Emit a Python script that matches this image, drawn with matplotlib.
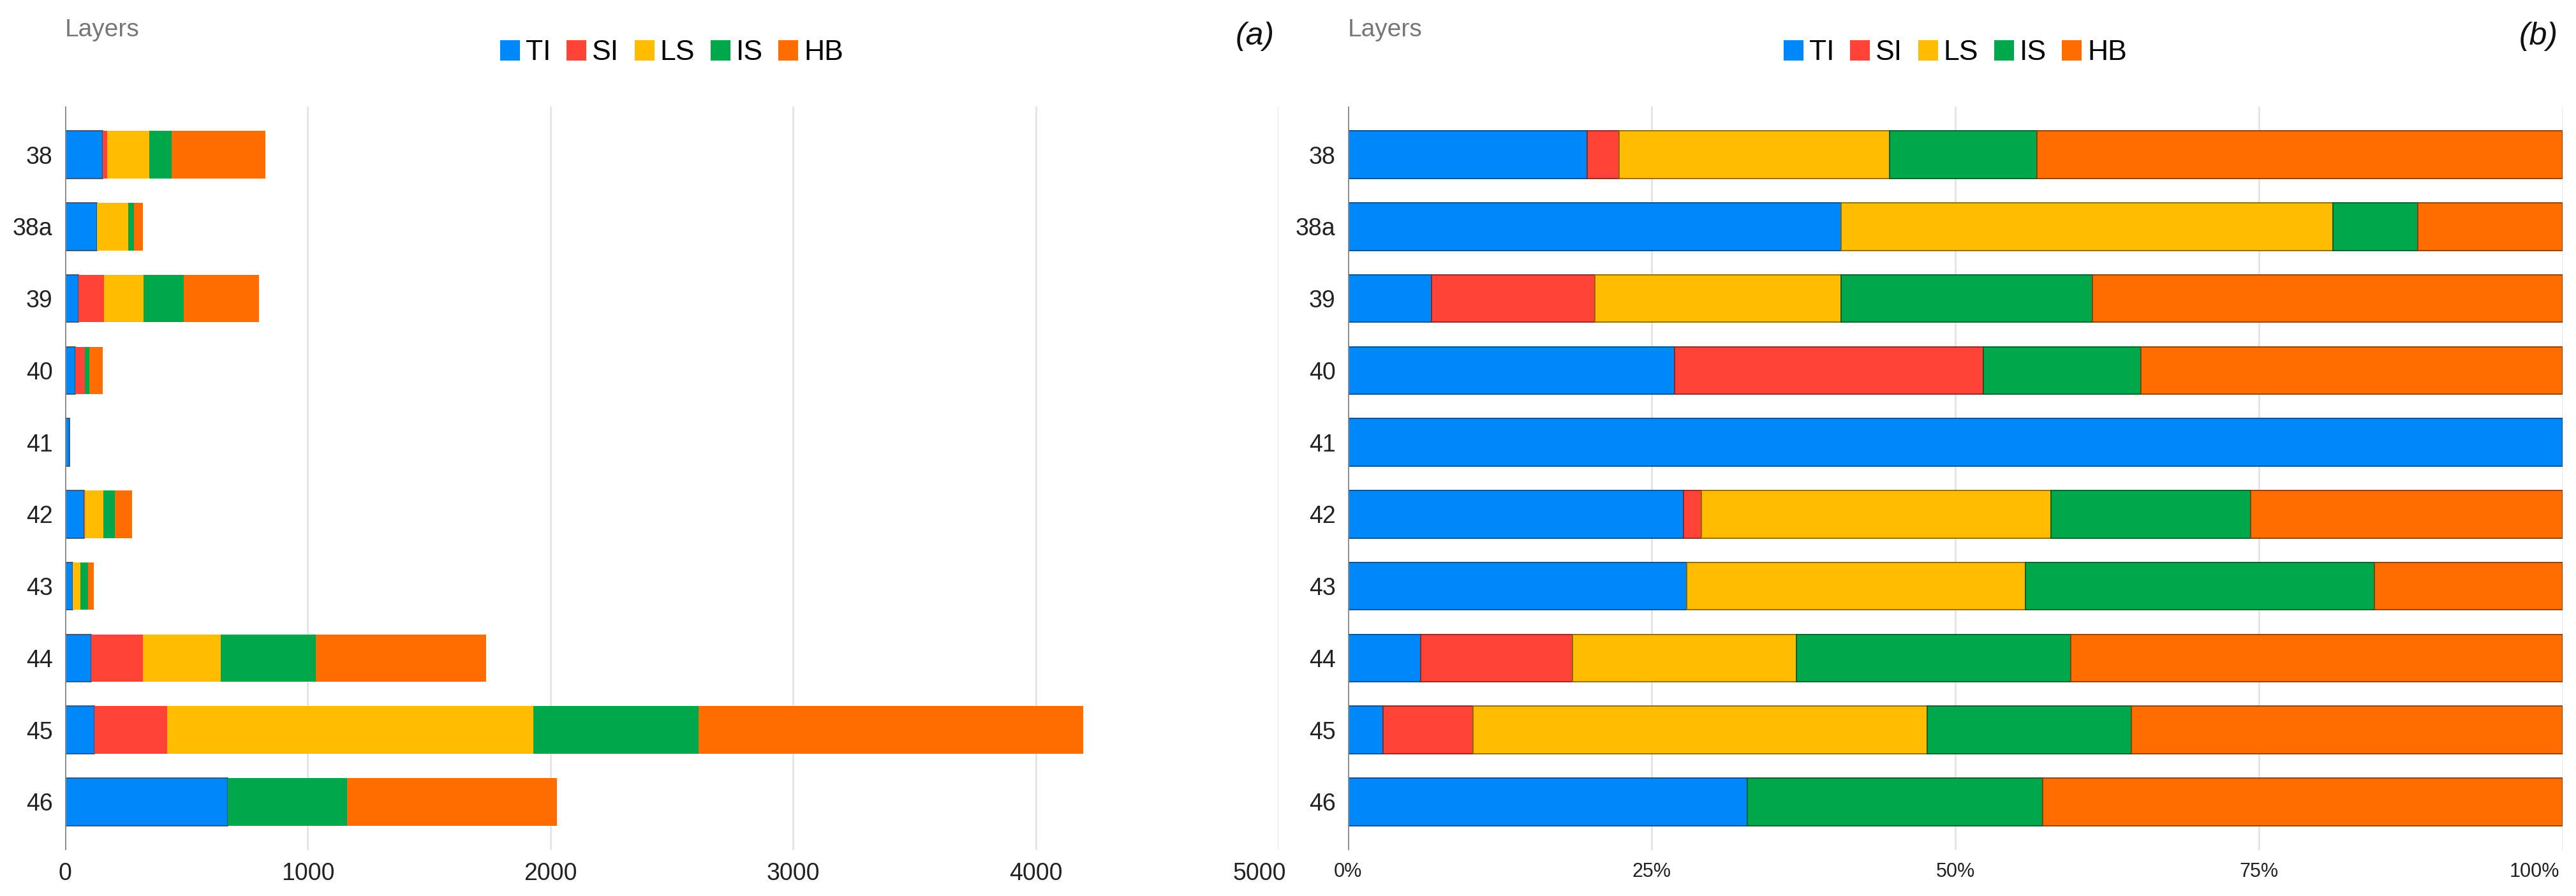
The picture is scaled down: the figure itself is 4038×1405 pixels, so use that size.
import matplotlib
matplotlib.use("Agg")
import matplotlib.pyplot as plt
from matplotlib.patches import Rectangle
import matplotlib.transforms as mtransforms
import numpy as np
from matplotlib.colors import to_rgb

plt.rcParams['font.family'] = ['Liberation Sans', 'DejaVu Sans']

layers = ["38", "38a", "39", "40", "41", "42", "43", "44", "45", "46"]
series = ["TI", "SI", "LS", "IS", "HB"]
colors = ["#0088FA", "#FF4336", "#FFBC00", "#00A84B", "#FF6D00"]

# panel (a): counts
ti_a = [155, 132, 55, 42, 19, 78, 31, 108, 121, 671]
si_a = [18, 0, 106, 40, 0, 4, 0, 214, 299, 0]
ls_a = [174, 129, 163, 0, 0, 75, 33, 319, 1510, 0]
is_a = [91, 23, 166, 18, 0, 47, 30, 393, 681, 491]
hb_a = [387, 38, 308, 55, 0, 73, 23, 701, 1585, 866]

# panel (b): percentages
ti_b = [19.7, 40.6, 6.9, 26.9, 100.0, 27.6, 27.9, 6.0, 2.9, 32.9]
si_b = [2.6, 0.0, 13.4, 25.4, 0.0, 1.5, 0.0, 12.5, 7.4, 0.0]
ls_b = [22.3, 40.5, 20.3, 0.0, 0.0, 28.8, 27.9, 18.4, 37.4, 0.0]
is_b = [12.1, 7.0, 20.7, 13.0, 0.0, 16.4, 28.7, 22.6, 16.8, 24.3]
hb_b = [43.3, 11.9, 38.7, 34.7, 0.0, 25.7, 15.5, 40.5, 35.5, 42.8]

xticks_a = [0, 1000, 2000, 3000, 4000, 5000]
xticks_b = [0, 25, 50, 75, 100]
xticklabels_b = ["0%", "25%", "50%", "75%", "100%"]

W, H = 4038, 1405
fig = plt.figure(figsize=(W / 100, H / 100), dpi=100)

axA = fig.add_axes([102 / W, 1 - 1333 / H, (2004 - 102) / W, 1166 / H])
axB = fig.add_axes([2113 / W, 1 - 1333 / H, (4017 - 2113) / W, 1166 / H])

def darker(c, f=0.55):
    r, g, b = to_rgb(c)
    return (r * f, g * f, b * f)

y = np.arange(len(layers))
bh = 0.66

def draw(ax, data, edge_all):
    left = np.zeros(len(layers))
    for i, (vals, col) in enumerate(zip(data, colors)):
        vals = np.array(vals, dtype=float)
        for j in range(len(layers)):
            if vals[j] <= 0:
                continue
            if edge_all:
                ec, lw = darker(col), 1.3
            elif i == 0:
                ec, lw = "#2c4a6a", 1.2
            else:
                ec, lw = col, 0
            ax.barh(y[j], vals[j], left=left[j], height=bh, color=col,
                    edgecolor=ec, linewidth=lw, zorder=3)
        left += vals

draw(axA, [ti_a, si_a, ls_a, is_a, hb_a], False)
draw(axB, [ti_b, si_b, ls_b, is_b, hb_b], True)

for ax, xt, lim in [(axA, xticks_a, 5000), (axB, xticks_b, 100)]:
    ax.set_xlim(0, lim)
    ax.set_ylim(len(layers) - 1 + 0.67, -0.67)
    ax.set_yticks(y)
    ax.set_yticklabels(layers, fontsize=27, color="#222222")
    ax.set_xticks(xt)
    for s in ax.spines.values():
        s.set_visible(False)
    ax.grid(axis="x", color="#e3e3e3", linewidth=2, zorder=0)
    ax.axvline(0, color="#8a8a8a", linewidth=2, zorder=4)
    ax.tick_params(axis="both", length=0)
    ax.tick_params(axis="y", pad=14)
    ax.tick_params(axis="x", pad=14)

axA.set_xticklabels([str(v) for v in xticks_a], fontsize=27, color="#222222")
axB.set_xticklabels(xticklabels_b, fontsize=22, color="#222222")

# shift the last tick labels inward, as in the reference
lastA = axA.get_xticklabels()[-1]
lastA.set_transform(lastA.get_transform() +
                    mtransforms.ScaledTranslation(-0.30, 0, fig.dpi_scale_trans))
lastB = axB.get_xticklabels()[-1]
lastB.set_transform(lastB.get_transform() +
                    mtransforms.ScaledTranslation(-0.44, 0, fig.dpi_scale_trans))

# titles "Layers"
fig.text(102 / W, 1 - 57 / H, "Layers", fontsize=28, color="#777777",
         ha="left", va="baseline")
fig.text(2113 / W, 1 - 57 / H, "Layers", fontsize=28, color="#777777",
         ha="left", va="baseline")

# panel labels
fig.text(1967 / W, 1 - 57 / H, "(a)", fontsize=36, style="italic",
         ha="center", va="center", color="#111111")
fig.text(3979 / W, 1 - 57 / H, "(b)", fontsize=36, style="italic",
         ha="center", va="center", color="#111111")

handles = [Rectangle((0, 0), 1, 1, facecolor=c, edgecolor="none") for c in colors]
for cx in [(102 + 2004) / 2 / W, (2113 + 4017) / 2 / W]:
    fig.legend(handles, series, loc="center", bbox_to_anchor=(cx, 1 - 83 / H),
               ncol=5, frameon=False, fontsize=32, handlelength=0.7,
               handleheight=0.7, handletextpad=0.2, columnspacing=0.55,
               borderpad=0, borderaxespad=0)

fig.savefig("out.png", dpi=100)
